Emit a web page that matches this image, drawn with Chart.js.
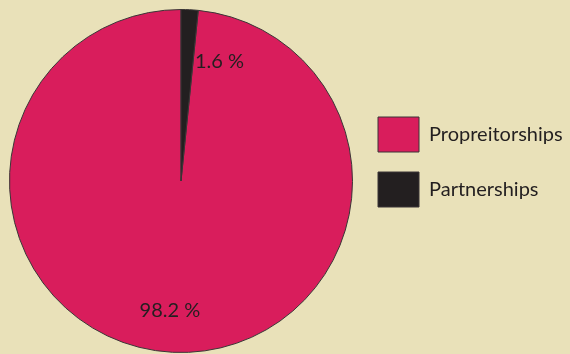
<!DOCTYPE html>
<html>
<head>
<meta charset="utf-8">
<script src="https://cdn.jsdelivr.net/npm/chart.js@4/dist/chart.umd.min.js"></script>
<style>
    html, body { margin: 0; padding: 0; background: #e9e1b9; }
    #wrap { width: 570px; height: 354px; }
</style>
</head>
<body>
<div id="wrap"><canvas id="share_chart" width="570" height="354"></canvas></div>
<script>
// Данные
var categories = ['Propreitorships', 'Partnerships'];
var shares = [98.2, 1.6];
var slice_colors = ['#d91d5c', '#231f20'];
var text_color = '#231f20';

// подписи на секторах
var slice_labels = {
    id: 'slice_labels',
    afterDatasetsDraw: function (chart, args, opts) {
        var ctx = chart.ctx;
        var meta = chart.getDatasetMeta(0);
        ctx.save();
        ctx.font = opts.font;
        ctx.fillStyle = opts.color;
        ctx.textAlign = 'center';
        ctx.textBaseline = 'middle';
        meta.data.forEach(function (arc, i) {
            var p = arc.getProps(['x', 'y', 'startAngle', 'endAngle', 'outerRadius'], true);
            var place = opts.place[i];
            var a = (p.startAngle + p.endAngle) / 2 + place.shift * Math.PI / 180;
            var r = p.outerRadius * place.k;
            ctx.fillText(shares[i] + ' %', p.x + Math.cos(a) * r, p.y + Math.sin(a) * r);
        });
        ctx.restore();
    }
};

var ctx = document.getElementById('share_chart').getContext('2d');
var chart = new Chart(ctx, {
    type: 'pie',
    data: {
        labels: categories,
        datasets: [{
            data: shares,
            backgroundColor: slice_colors,
            borderColor: '#3a3536',
            borderWidth: 1
        }]
    },
    options: {
        responsive: false,
        animation: false,
        // сектор партнерств начинается сверху
        rotation: shares[1] / (shares[0] + shares[1]) * 360,
        layout: { padding: { top: 9, bottom: 1, left: 4, right: 0 } },
        plugins: {
            tooltip: { enabled: false },
            legend: {
                position: 'right',
                align: 'start',
                maxWidth: 212,
                title: {
                    display: true,
                    text: ' ',
                    font: { size: 10, lineHeight: 1 },
                    padding: { top: 78, bottom: 0 }
                },
                labels: {
                    boxWidth: 41,
                    boxHeight: 35,
                    padding: 20,
                    color: text_color,
                    font: { family: 'Lato', size: 20 }
                }
            },
            slice_labels: {
                font: '20px Lato',
                color: text_color,
                place: [{ shift: 2, k: 0.76 }, { shift: 15, k: 0.73 }]
            }
        }
    },
    plugins: [slice_labels]
});
</script>
</body>
</html>
